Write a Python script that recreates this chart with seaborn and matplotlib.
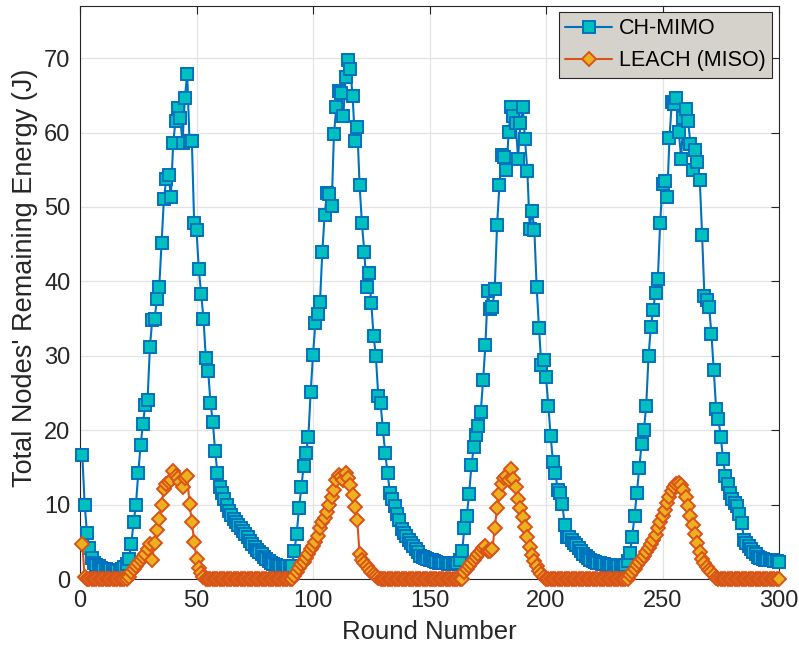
import matplotlib
matplotlib.use("Agg")
import matplotlib.pyplot as plt
import seaborn as sns
import pandas as pd

# Round index and total remaining energy (J) per round for each scheme
rounds = list(range(1, 301))

ch_mimo = [
    16.6, 10.0, 6.2, 4.2, 2.8, 2.2, 1.9, 1.7, 1.5, 1.4,
    1.3, 1.2, 1.2, 1.1, 1.1, 1.1, 1.2, 1.3, 1.6, 2.0,
    2.7, 4.7, 7.6, 10.0, 14.2, 18.0, 20.8, 23.4, 24.1, 31.2,
    34.8, 34.9, 37.6, 39.2, 45.2, 51.0, 53.7, 54.3, 51.4, 58.6,
    61.6, 63.3, 62.0, 58.6, 64.6, 67.9, 58.8, 58.9, 47.8, 46.9,
    41.6, 38.3, 35.0, 29.7, 28.0, 23.7, 21.1, 17.2, 14.2, 12.4,
    11.5, 10.7, 9.9, 9.2, 8.6, 8.1, 7.7, 7.2, 6.8, 6.4,
    6.0, 5.6, 5.1, 4.7, 4.3, 3.9, 3.6, 3.3, 3.0, 2.7,
    2.4, 2.2, 2.0, 1.9, 1.8, 1.8, 1.7, 1.7, 1.7, 1.7,
    1.8, 3.7, 6.1, 9.5, 12.4, 15.2, 16.9, 19.1, 25.1, 30.1,
    34.4, 35.6, 37.2, 44.0, 48.9, 51.9, 51.7, 50.1, 59.8, 63.4,
    65.6, 65.3, 62.2, 67.5, 69.7, 68.5, 64.9, 58.9, 60.8, 52.9,
    47.8, 44.0, 39.2, 41.1, 37.1, 32.7, 29.9, 24.6, 23.6, 20.1,
    16.9, 14.3, 11.6, 10.7, 9.8, 8.8, 7.9, 6.7, 6.2, 5.8,
    5.3, 4.9, 4.4, 4.0, 3.6, 3.1, 2.9, 2.8, 2.7, 2.6,
    2.5, 2.4, 2.3, 2.2, 2.2, 2.1, 2.1, 2.0, 2.0, 2.0,
    2.0, 2.1, 2.5, 3.7, 6.9, 8.5, 11.4, 15.3, 17.7, 19.3,
    20.5, 22.5, 26.7, 31.5, 38.7, 36.3, 36.5, 39.0, 47.6, 52.9,
    57.0, 56.7, 55.0, 60.1, 63.4, 62.2, 61.3, 56.5, 61.3, 63.4,
    59.1, 54.8, 47.1, 49.5, 46.9, 39.2, 33.7, 28.7, 29.4, 27.2,
    23.3, 19.2, 15.7, 14.3, 12.0, 11.6, 10.1, 7.3, 5.7, 5.6,
    5.2, 4.9, 4.6, 4.2, 3.8, 3.4, 3.1, 2.8, 2.6, 2.4,
    2.3, 2.2, 2.1, 2.0, 2.0, 1.9, 1.9, 1.9, 1.8, 1.8,
    1.8, 1.8, 1.8, 1.9, 2.4, 3.5, 5.7, 8.5, 11.6, 14.9,
    18.1, 20.0, 23.2, 29.9, 33.9, 36.2, 38.5, 40.3, 47.9, 53.1,
    53.5, 51.3, 59.3, 64.1, 63.8, 64.6, 60.1, 56.5, 62.0, 63.2,
    61.5, 58.4, 55.0, 57.7, 56.0, 53.6, 46.2, 38.0, 37.5, 36.6,
    32.9, 28.1, 22.9, 21.5, 19.1, 16.1, 13.8, 12.8, 11.6, 10.7,
    10.2, 9.8, 8.8, 7.5, 5.3, 4.9, 4.5, 4.0, 3.6, 3.3,
    3.0, 2.8, 2.7, 2.6, 2.6, 2.5, 2.5, 2.4, 2.4, 2.3,
]

leach_miso = [
    4.7, 0.3, 0, 0, 0, 0, 0, 0, 0, 0,
    0, 0, 0, 0, 0, 0, 0, 0, 0, 0,
    0.3, 0.9, 1.3, 1.8, 2.2, 2.5, 2.9, 3.3, 4.0, 4.7,
    2.6, 4.8, 6.6, 8.1, 10.0, 12.1, 12.8, 13.0, 13.3, 14.5,
    13.9, 13.6, 13.1, 12.4, 13.6, 13.8, 10.1, 7.7, 5.0, 2.7,
    1.5, 0.8, 0.3, 0, 0, 0, 0, 0, 0, 0,
    0, 0, 0, 0, 0, 0, 0, 0, 0, 0,
    0, 0, 0, 0, 0, 0, 0, 0, 0, 0,
    0, 0, 0, 0, 0, 0, 0, 0, 0, 0,
    0, 0.4, 0.9, 1.5, 2.0, 2.3, 2.8, 3.3, 4.0, 4.5,
    5.0, 5.8, 6.8, 7.6, 8.2, 9.0, 10.0, 11.0, 12.0, 13.3,
    14.0, 13.7, 13.3, 14.3, 13.6, 12.6, 11.3, 9.7, 7.9, 3.3,
    2.6, 2.1, 1.7, 1.3, 1.0, 0.7, 0.4, 0.2, 0, 0,
    0, 0, 0, 0, 0, 0, 0, 0, 0, 0,
    0, 0, 0, 0, 0, 0, 0, 0, 0, 0,
    0, 0, 0, 0, 0, 0, 0, 0, 0, 0,
    0, 0, 0, 0, 0.9, 1.3, 1.7, 2.2, 2.5, 2.9,
    3.3, 3.7, 4.1, 4.4, 3.8, 3.7, 4.0, 6.9, 9.5, 11.4,
    12.8, 13.6, 13.8, 13.3, 14.8, 13.5, 12.4, 10.7, 9.5, 8.3,
    7.0, 5.6, 4.3, 3.2, 2.4, 1.7, 1.1, 0.7, 0.3, 0,
    0, 0, 0, 0, 0, 0, 0, 0, 0, 0,
    0, 0, 0, 0, 0, 0, 0, 0, 0, 0,
    0, 0, 0, 0, 0, 0, 0, 0, 0, 0,
    0, 0, 0, 0, 0, 0.6, 1.0, 1.4, 1.9, 2.3,
    2.7, 3.1, 3.6, 4.1, 4.7, 5.3, 5.9, 6.8, 7.6, 8.5,
    9.3, 10.2, 11.0, 11.8, 12.3, 12.8, 12.9, 12.6, 11.9, 11.0,
    9.8, 8.5, 7.3, 6.1, 4.8, 3.6, 2.7, 2.1, 1.6, 1.2,
    0.9, 0.5, 0.2, 0, 0, 0, 0, 0, 0, 0,
    0, 0, 0, 0, 0, 0, 0, 0, 0, 0,
    0, 0, 0, 0, 0, 0, 0, 0, 0, 0,
]

series_names = ["CH-MIMO", "LEACH (MISO)"]
x_ticks = [0, 50, 100, 150, 200, 250, 300]
y_ticks = [0, 10, 20, 30, 40, 50, 60, 70]

sns.set_style("white")
plt.rcParams["font.family"] = ["Liberation Sans", "DejaVu Sans"]

ink = "#262626"

df = pd.DataFrame({"round": rounds,
                   series_names[0]: ch_mimo,
                   series_names[1]: leach_miso})

fig = plt.figure(figsize=(7.99, 6.54), dpi=100)
ax = fig.add_axes([80 / 799, 75 / 654, 699 / 799, 573 / 654])

sns.lineplot(data=df, x="round", y=series_names[0], ax=ax,
             color="#0072BD", linewidth=1.5,
             marker="s", markersize=8.2,
             markerfacecolor="#00BFBF", markeredgecolor="#0072BD",
             markeredgewidth=1.4, label=series_names[0],
             clip_on=False, zorder=3)
sns.lineplot(data=df, x="round", y=series_names[1], ax=ax,
             color="#D95319", linewidth=1.5,
             marker="D", markersize=7.2,
             markerfacecolor="#EDB120", markeredgecolor="#D95319",
             markeredgewidth=1.4, label=series_names[1],
             clip_on=False, zorder=4)

ax.set_xlim(0, 300)
ax.set_ylim(0, 77)
ax.set_xticks(x_ticks)
ax.set_yticks(y_ticks)

ax.grid(True, color="#e3e3e3", linewidth=0.9)
ax.set_axisbelow(True)

for sp in ax.spines.values():
    sp.set_color(ink)
    sp.set_linewidth(0.8)
    sp.set_visible(True)

ax.tick_params(direction="in", length=6, width=0.8, top=True, right=True,
               labelsize=17, colors=ink)
ax.tick_params(axis="x", pad=8)
ax.tick_params(axis="y", pad=7)

ax.set_xlabel("Round Number", fontsize=18.5, color=ink, labelpad=6)
ax.set_ylabel("Total Nodes' Remaining Energy (J)", fontsize=19.5, color=ink)
ax.yaxis.set_label_coords(-0.06, 0.525)

leg = ax.legend(loc="upper right", bbox_to_anchor=(772 / 799, 1 - 12 / 654),
                bbox_transform=fig.transFigure, borderaxespad=0,
                fancybox=False, framealpha=1, facecolor="#d5d2cc",
                edgecolor=ink, fontsize=15.5, handlelength=2.2,
                handletextpad=0.3, labelspacing=0.5, borderpad=0.3)
leg.get_frame().set_linewidth(0.8)
for t in leg.get_texts():
    t.set_color("black")

fig.savefig("out.png", dpi=100)
